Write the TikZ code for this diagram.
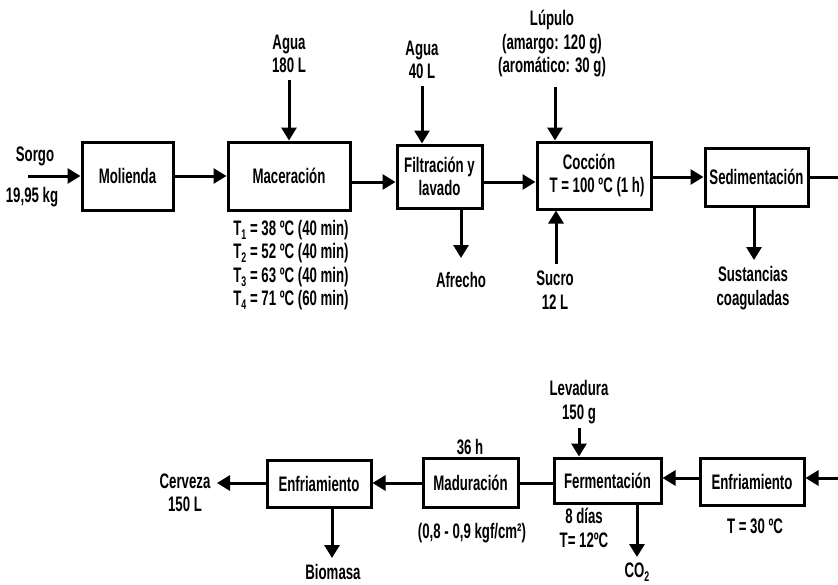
\documentclass[tikz,border=0pt]{standalone}
\usepackage{fontspec}
\setmainfont{Liberation Sans}[FakeStretch=0.63]
\usetikzlibrary{arrows.meta}
\newcommand\lowsub[1]{\raisebox{-0.35ex}{\fontsize{14}{14}\selectfont #1}}
\begin{document}
\begin{tikzpicture}[x=1pt,y=-1pt,
  every node/.style={font=\fontsize{21}{23.5}\selectfont\bfseries, inner sep=0pt, align=center},
  box/.style={draw, line width=3pt, rectangle},
  arr/.style={line width=3pt, -{Triangle[length=13pt,width=15pt]}},
  ln/.style={line width=3pt}]
\path[use as bounding box] (0,0) rectangle (838,584);
% top row boxes
\node[box, minimum width=91pt, minimum height=68pt] (mol) at (127.5,176) {Molienda};
\node[box, minimum width=122pt, minimum height=68pt] (mac) at (289,176) {Maceración};
\node[box, minimum width=85pt, minimum height=63pt] (fil) at (439.5,176.5) {Filtración y\\lavado};
\node[box, minimum width=114pt, minimum height=67pt] (coc) at (594,175.5) {};
\node (coct) at (589,162) {Cocción};
\node (cocT) at (597,187) {T = 100 ºC (1 h)};
\node[box, minimum width=103pt, minimum height=58pt] (sed) at (756.5,177) {Sedimentación};
% top labels
\node (sorgo) at (35,156) {Sorgo};
\node (sorgokg) at (32,197) {19,95 kg};
\node (agua1) at (289,54) {Agua\\180 L};
\node (agua2) at (422,60) {Agua\\40 L};
\node (lup) at (552,44) {Lúpulo\\(amargo: 120 g)\\(aromático: 30 g)};
\node (temps) at (291,265) {T\lowsub{1} = 38 ºC (40 min)\\T\lowsub{2} = 52 ºC (40 min)\\T\lowsub{3} = 63 ºC (40 min)\\T\lowsub{4} = 71 ºC (60 min)};
\node (afr) at (461,280) {Afrecho};
\node (suc) at (555,290) {Sucro\\12 L};
\node (sus) at (753,288) {Sustancias\\coaguladas};
% top coordinates
\coordinate (sorgoin) at (28,176);
\coordinate (a1) at (289,80);
\coordinate (a2) at (422,86);
\coordinate (lupin) at (555,87);
\coordinate (afrout) at (461,258);
\coordinate (sucin) at (556,264);
\coordinate (susout) at (754,260);
\coordinate (sedout) at (842,177);
\coordinate (lowline) at (0,182);
\coordinate (midline) at (0,177);
% top connectors
\draw[arr] (sorgoin) -- (mol.west);
\draw[arr] (mol.east) -- (mac.west);
\draw[arr] (mac.east |- lowline) -- (fil.west |- lowline);
\draw[arr] (fil.east |- lowline) -- (coc.west |- lowline);
\draw[arr] (coc.east |- midline) -- (sed.west);
\draw[ln] (sed.east) -- (sedout);
\draw[arr] (a1) -- (mac.north);
\draw[arr] (a2) -- (a2 |- fil.north);
\draw[arr] (lupin) -- (lupin |- coc.north);
\draw[arr] (sucin) -- (sucin |- coc.south);
\draw[arr] (afrout |- fil.south) -- (afrout);
\draw[arr] (susout |- sed.south) -- (susout);
% bottom row boxes
\node[box, minimum width=104pt, minimum height=47pt] (enf1) at (319,483.5) {Enfriamiento};
\node[box, minimum width=95pt, minimum height=49pt] (mad) at (470.5,482.5) {Maduración};
\node[box, minimum width=107pt, minimum height=45pt] (fer) at (607.5,480.5) {Fermentación};
\node[box, minimum width=104pt, minimum height=47pt] (enf2) at (752,481.5) {Enfriamiento};
% bottom labels
\node (cer) at (185,493) {Cerveza\\150 L};
\node (bio) at (333,572) {Biomasa};
\node (h36) at (470,447) {36 h};
\node (pres) at (472,533) {(0,8 - 0,9 kgf/cm²)};
\node (lev) at (579,402) {Levadura\\150 g};
\node (dias) at (584,528) {8 días\\T= 12ºC};
\node (co2) at (637,572) {CO\lowsub{2}};
\node (t30) at (755,526) {T = 30 ºC};
% bottom coordinates
\coordinate (cerout) at (217,483);
\coordinate (bioout) at (332,558);
\coordinate (levin) at (579,428);
\coordinate (co2out) at (637,557);
\coordinate (enf2in) at (842,478);
% bottom connectors
\draw[arr] (enf2in) -- (enf2in -| enf2.east);
\draw[arr] (enf2.west |- enf2in) -- (fer.east |- enf2in);
\draw[ln] (fer.west |- cerout) -- (mad.east |- cerout);
\draw[arr] (mad.west |- cerout) -- (enf1.east |- cerout);
\draw[arr] (enf1.west |- cerout) -- (cerout);
\draw[arr] (bioout |- enf1.south) -- (bioout);
\draw[arr] (levin) -- (levin |- fer.north);
\draw[arr] (co2out |- fer.south) -- (co2out);
\end{tikzpicture}
\end{document}
